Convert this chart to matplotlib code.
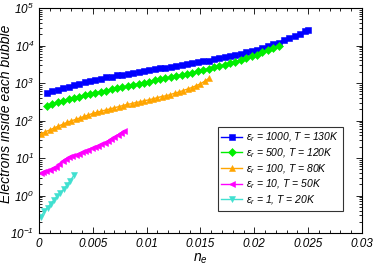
import math

import matplotlib
matplotlib.use("Agg")
import matplotlib.pyplot as plt
from matplotlib.ticker import LogLocator, MultipleLocator, FuncFormatter, NullFormatter

plt.rcParams["font.family"] = "Liberation Sans"
plt.rcParams["font.style"] = "italic"
plt.rcParams["mathtext.fontset"] = "custom"
plt.rcParams["mathtext.it"] = "Liberation Sans:italic"
plt.rcParams["mathtext.rm"] = "Liberation Sans:italic"
plt.rcParams["mathtext.default"] = "it"

# eps_r = 1000, T = 130K
ne_1000 = [0.00075, 0.00125, 0.00175, 0.00225, 0.00275, 0.00325, 0.00375, 0.00425, 0.00475, 0.00525,
           0.00575, 0.00625, 0.00675, 0.00725, 0.00775, 0.00825, 0.00875, 0.00925, 0.00975, 0.01025,
           0.01075, 0.01125, 0.01175, 0.01225, 0.01275, 0.01325, 0.01375, 0.01425, 0.01475, 0.01525,
           0.01575, 0.01625, 0.01675, 0.01725, 0.01775, 0.01825, 0.01875, 0.01925, 0.01975, 0.02025,
           0.02075, 0.02125, 0.02175, 0.02225, 0.02275, 0.02325, 0.02375, 0.02425, 0.02475, 0.025]
N_1000 = [540, 600, 660, 720, 790, 870, 950, 1050, 1150, 1230,
          1320, 1410, 1480, 1590, 1660, 1780, 1860, 2000, 2090, 2190,
          2340, 2460, 2570, 2690, 2880, 3020, 3160, 3390, 3550, 3800,
          3980, 4270, 4570, 4900, 5250, 5620, 6030, 6610, 7080, 7760,
          8510, 9550, 10700, 12000, 13800, 15800, 18200, 20900, 24000, 25700]

# eps_r = 500, T = 120K
ne_500 = [0.00075, 0.00125, 0.00175, 0.00225, 0.00275, 0.00325, 0.00375, 0.00425, 0.00475, 0.00525,
          0.00575, 0.00625, 0.00675, 0.00725, 0.00775, 0.00825, 0.00875, 0.00925, 0.00975, 0.01025,
          0.01075, 0.01125, 0.01175, 0.01225, 0.01275, 0.01325, 0.01375, 0.01425, 0.01475, 0.01525,
          0.01575, 0.01625, 0.01675, 0.01725, 0.01775, 0.01825, 0.01875, 0.01925, 0.01975, 0.02025,
          0.02075, 0.02125, 0.02175, 0.02225]
N_500 = [251, 282, 309, 339, 372, 407, 437, 479, 513, 550,
         589, 631, 676, 724, 776, 832, 891, 955, 1023, 1096,
         1175, 1259, 1349, 1445, 1549, 1660, 1778, 1905, 2089, 2239,
         2399, 2630, 2818, 3090, 3388, 3715, 4074, 4571, 5129, 5754,
         6607, 7586, 8710, 10000]

# eps_r = 100, T = 80K
ne_100 = [0.0002, 0.0006, 0.0010, 0.0014, 0.0018, 0.0022, 0.0026, 0.0030, 0.0034, 0.0038,
          0.0042, 0.0046, 0.0050, 0.0054, 0.0058, 0.0062, 0.0066, 0.0070, 0.0074, 0.0078,
          0.0082, 0.0086, 0.0090, 0.0094, 0.0098, 0.0102, 0.0106, 0.0110, 0.0114, 0.0118,
          0.0122, 0.0126, 0.0130, 0.0134, 0.0138, 0.0142, 0.0146, 0.0150, 0.0154, 0.0158]
N_100 = [43.7, 50.1, 56.2, 63.1, 70.8, 79.4, 89.1, 97.7, 107, 117,
         129, 141, 155, 166, 178, 191, 204, 219, 234, 251,
         269, 282, 302, 316, 339, 355, 380, 407, 437, 457,
         490, 537, 575, 631, 692, 759, 851, 955, 1122, 1349]

# eps_r = 10, T = 50K
ne_10 = [0.00015, 0.0004, 0.0007, 0.0010, 0.0013, 0.0016, 0.0019, 0.0022, 0.0025, 0.0028,
         0.0031, 0.0034, 0.0037, 0.0040, 0.0043, 0.0046, 0.0049, 0.0052, 0.0055, 0.0058,
         0.0061, 0.0064, 0.0067, 0.0070, 0.0073, 0.0076, 0.0079]
N_10 = [3.89, 4.17, 4.47, 4.90, 5.37, 5.89, 6.92, 8.51, 9.55, 10.5,
        11.5, 12.3, 13.2, 14.1, 15.1, 16.6, 18.2, 20.0, 21.4, 23.4,
        25.7, 28.8, 32.4, 36.3, 40.7, 46.8, 53.7]

# eps_r = 1, T = 20K
ne_1 = [0.0002, 0.0005, 0.0008, 0.0011, 0.0014, 0.0017, 0.0020, 0.0023, 0.0026, 0.0029, 0.00325]
N_1 = [0.275, 0.38, 0.479, 0.603, 0.759, 0.955, 1.17, 1.48, 1.86, 2.45, 3.47]

series = [
    (ne_1000, N_1000, "#0000ff", "s", 5.0, r"$\varepsilon_r$ = 1000, $T$ = 130K"),
    (ne_500, N_500, "#00ee00", "D", 4.2, r"$\varepsilon_r$ = 500, $T$ = 120K"),
    (ne_100, N_100, "#ffa500", "^", 4.2, r"$\varepsilon_r$ = 100, $T$ = 80K"),
    (ne_10, N_10, "#ff00ff", "<", 4.0, r"$\varepsilon_r$ = 10, $T$ = 50K"),
    (ne_1, N_1, "#40e0d0", "v", 4.0, r"$\varepsilon_r$ = 1, $T$ = 20K"),
]

fig = plt.figure(figsize=(3.74, 2.67), dpi=100)
ax = fig.add_axes([0.104, 0.127, 0.864, 0.843])

for x, y, c, m, ms, lab in series:
    ax.plot(x, y, color=c, marker=m, markersize=ms, linewidth=1, markeredgewidth=0.4, label=lab)

ax.set_yscale("log")
ax.set_xlim(0, 0.03)
ax.set_ylim(0.1, 1e5)
ax.xaxis.set_major_locator(MultipleLocator(0.005))
ax.xaxis.set_minor_locator(MultipleLocator(0.001))
ax.xaxis.set_major_formatter(FuncFormatter(lambda v, p: "0" if v == 0 else f"{v:g}"))
ax.yaxis.set_major_locator(LogLocator(base=10, numticks=10))
ax.yaxis.set_minor_locator(LogLocator(base=10, subs=range(2, 10), numticks=10))
ax.yaxis.set_minor_formatter(NullFormatter())
ax.yaxis.set_major_formatter(FuncFormatter(lambda v, p: r"$10^{%d}$" % round(math.log10(v))))

ax.tick_params(which="both", direction="in", top=True, right=True, labelsize=8.5, width=0.6)
ax.tick_params(which="major", length=4)
ax.tick_params(which="minor", length=2)
for s in ax.spines.values():
    s.set_linewidth(0.8)

ax.set_xlabel(r"$n_e$", fontsize=10, labelpad=1)
ax.set_ylabel("Electrons inside each bubble", fontsize=10)
ax.yaxis.set_label_coords(-0.08, 0.53)

leg = ax.legend(loc="lower right", bbox_to_anchor=(0.94, 0.1), fontsize=7.5, frameon=True,
                fancybox=False, edgecolor="black", handlelength=2, handletextpad=0.4,
                labelspacing=0.2, borderpad=0.35, borderaxespad=0)
leg.get_frame().set_linewidth(0.8)

fig.savefig("out.png", dpi=100)
